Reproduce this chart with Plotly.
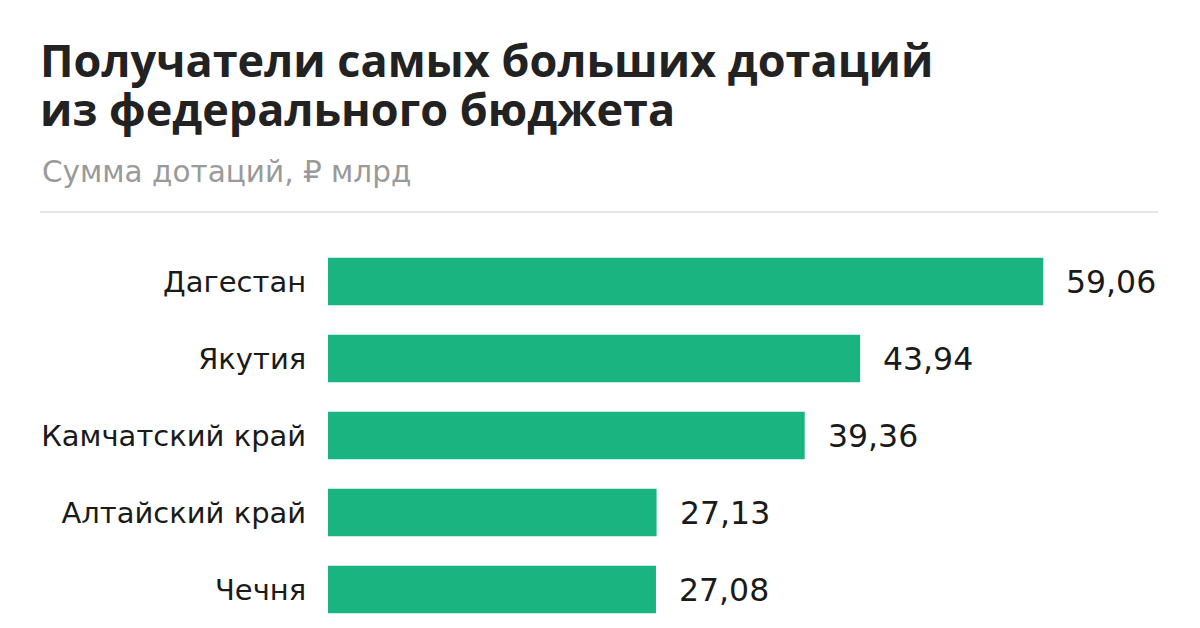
import plotly.graph_objects as go

regions = ["Дагестан", "Якутия", "Камчатский край", "Алтайский край", "Чечня"]
values = [59.06, 43.94, 39.36, 27.13, 27.08]

title_lines = ["Получатели самых больших дотаций", "из федерального бюджета"]
subtitle = "Сумма дотаций, ₽ млрд"

W, H = 1200, 628
ML, MT, MB, MR = 328, 243, 0, 0
PW, PH = W - ML - MR, H - MT - MB

def px(x):
    return (x - ML) / PW

def py(y):
    return (H - MB - y) / PH

FONT = "DejaVu Sans"
TFONT = "Open Sans"
BAR = "#19B47F"

fig = go.Figure()
fig.add_trace(go.Bar(
    x=values, y=regions, orientation="h",
    marker=dict(color=BAR, line=dict(width=0)),
    width=0.62, hoverinfo="skip",
))

annotations = []
for r, v in zip(regions, values):
    annotations.append(dict(
        x=v, y=r, xref="x", yref="y", xanchor="left", yanchor="middle",
        xshift=21, text=f"{v:.2f}".replace(".", ","), showarrow=False,
        font=dict(family=FONT, size=31.5, color="#1a1a1a"),
    ))

for i, (line, top) in enumerate(zip(title_lines, [27, 76])):
    annotations.append(dict(
        x=px(38), y=py(top), xref="paper", yref="paper", xanchor="left", yanchor="top",
        text=line, showarrow=False, align="left",
        font=dict(family=TFONT, size=45, color="#222222", weight="bold"),
    ))
annotations.append(dict(
    x=px(40), y=py(153), xref="paper", yref="paper", xanchor="left", yanchor="top",
    text=subtitle, showarrow=False, align="left",
    font=dict(family=FONT, size=29.5, color="#9a9a9a"),
))

fig.update_layout(
    width=W, height=H,
    margin=dict(l=ML, r=MR, t=MT, b=MB, pad=0),
    paper_bgcolor="white", plot_bgcolor="white",
    showlegend=False,
    xaxis=dict(range=[0, 72], visible=False, fixedrange=True),
    yaxis=dict(autorange="reversed", showgrid=False, zeroline=False, showline=False,
               ticks="outside", ticklen=15, tickcolor="rgba(0,0,0,0)",
               tickfont=dict(family=FONT, size=29, color="#1a1a1a")),
    annotations=annotations,
    shapes=[dict(type="line", xref="paper", yref="paper",
                 x0=px(40), x1=px(1158), y0=py(212), y1=py(212),
                 line=dict(color="#e6e6e6", width=2))],
)

fig.write_html("out.html")
